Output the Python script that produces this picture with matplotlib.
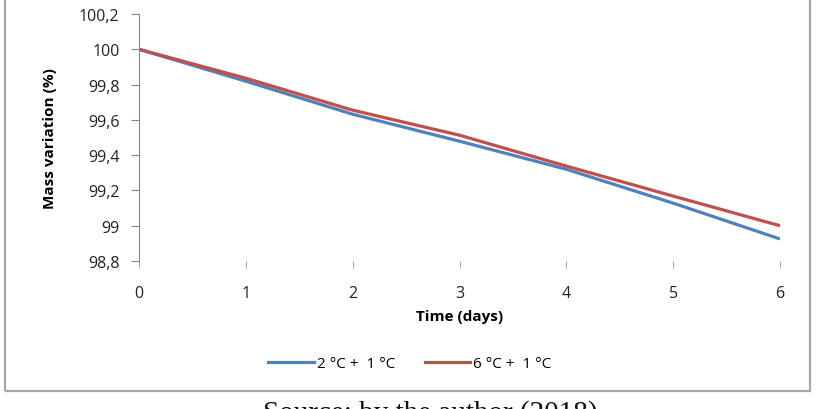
import matplotlib.pyplot as plt
from matplotlib.patches import Rectangle
from matplotlib.lines import Line2D

days = [0, 1, 2, 3, 4, 5, 6]
mass_2c = [100, 99.819, 99.632, 99.479, 99.320, 99.128, 98.925]
mass_6c = [100, 99.836, 99.655, 99.513, 99.338, 99.168, 99.000]
y_ticks = [98.8, 99.0, 99.2, 99.4, 99.6, 99.8, 100.0, 100.2]
labels = ['2 °C +  1 °C', '6 °C +  1 °C']

blue = '#4F81BD'
red = '#C0504D'
grey = '#868686'

plt.rcParams['font.family'] = ['Open Sans', 'DejaVu Sans']

fig = plt.figure(figsize=(8.34, 4.10), dpi=100)
W, H = 834, 410

# outer chart frame (top edge is cut off in the original)
fig.patches.append(Rectangle((5 / W, 1 - 392 / H), 805 / W, 420 / H,
                             transform=fig.transFigure, fill=False,
                             edgecolor='#A6A6A6', linewidth=1.6))

ax = fig.add_axes([139 / W, 1 - 262 / H, 641 / W, 247 / H])
ax.plot(days, mass_2c, color=blue, linewidth=2.3, solid_capstyle='butt')
ax.plot(days, mass_6c, color=red, linewidth=2.3, solid_capstyle='butt')

ax.set_xlim(0, 6)
ax.set_ylim(98.8, 100.2)
ax.set_yticks(y_ticks)
ax.set_yticklabels([('%g' % v).replace('.', ',') for v in y_ticks])
ax.set_xticks(days)

for s in ['top', 'right', 'bottom']:
    ax.spines[s].set_visible(False)
ax.spines['left'].set_color(grey)
ax.tick_params(axis='y', colors=grey, labelcolor='#222222', length=6,
               labelsize=11.5, pad=8)
ax.tick_params(axis='x', colors='#AAAAAA', labelcolor='#222222', length=5,
               labelsize=11.5, pad=12)

ax.set_xlabel('Time (days)', fontsize=11, fontweight='bold', labelpad=6)
ax.set_ylabel('Mass variation (%)', fontsize=11, fontweight='bold', labelpad=16)

handles = [Line2D([], [], color=blue, linewidth=2.3),
           Line2D([], [], color=red, linewidth=2.3)]
fig.legend(handles, labels, loc='center', bbox_to_anchor=(410 / W, 1 - 365 / H),
           ncol=2, frameon=False, fontsize=11, handlelength=3.0,
           handletextpad=0.2, columnspacing=1.9)

# caption below the chart, partly cut off at the bottom edge as in the original
fig.text(430 / W, 1 - 414 / H, 'Source: by the author (2018)',
         family='Liberation Serif', fontsize=21, ha='center', va='center',
         color='#111111')

fig.savefig('out.png', dpi=100)
